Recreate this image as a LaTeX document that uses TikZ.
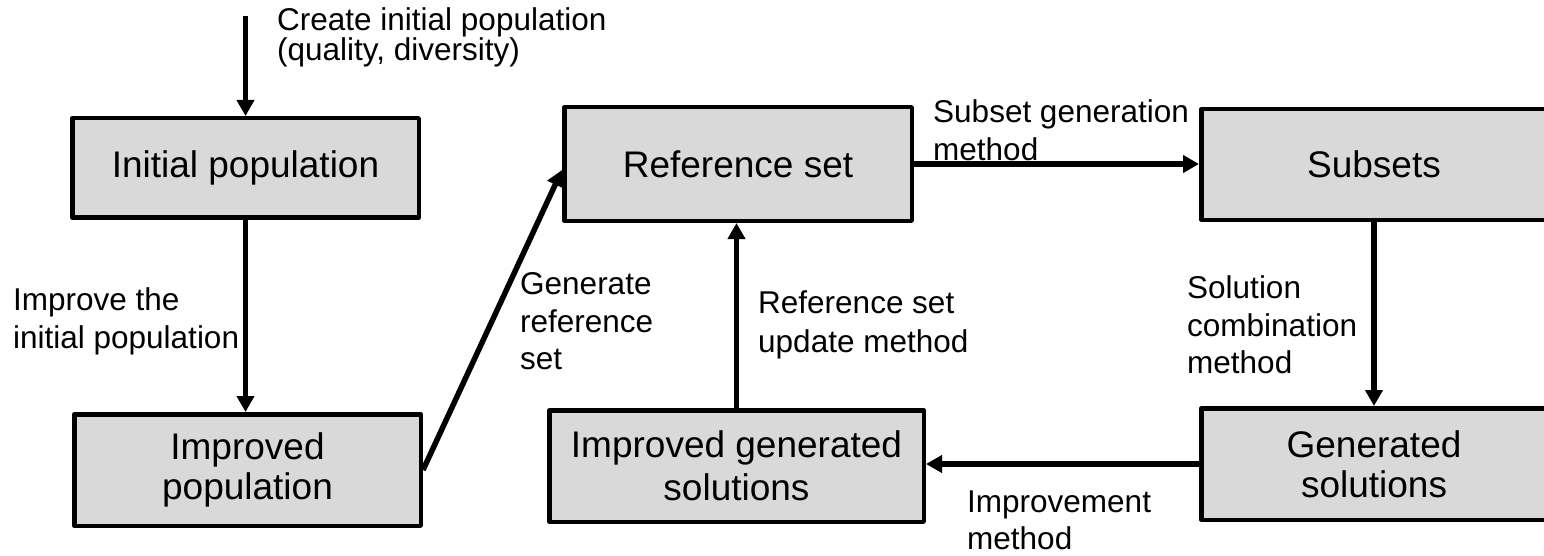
\documentclass[tikz,border=0pt]{standalone}
\usepackage{fontspec}
\setmainfont{Liberation Sans}
\usetikzlibrary{arrows.meta}
\definecolor{boxgray}{HTML}{D9D9D9}
\begin{document}
\begin{tikzpicture}[x=1pt,y=-1pt,
  box/.style={draw=black, fill=boxgray, line width=4.5pt, rectangle, align=center, inner sep=0pt, line join=round},
  boxfont/.style={font=\fontsize{37}{40}\selectfont},
  lbl/.style={anchor=north west, inner sep=0pt, align=left, font=\fontsize{31.5}{37.5}\selectfont},
  arr/.style={line width=5.5pt, -{Triangle[length=16pt,width=17pt]}}
]
\useasboundingbox (0,0) rectangle (1544,556);
\clip (0,0) rectangle (1544,556);

% boxes
\node[box, boxfont, minimum width=346.5pt, minimum height=99.5pt] (init) at (245.5,168) {Initial population};
\node[box, boxfont, minimum width=346.5pt, minimum height=111.5pt] (impop) at (247.5,470) {Improved\\population};
\node[box, boxfont, minimum width=347.5pt, minimum height=113.5pt] (refset) at (738,164) {Reference set};
\node[box, boxfont, minimum width=374.5pt, minimum height=111.5pt, font=\fontsize{37}{43}\selectfont] (impgen) at (736.5,466) {Improved generated\\solutions};
\node[box, boxfont, minimum width=345.5pt, minimum height=110.5pt] (subsets) at (1374,164.5) {Subsets};
\node[box, boxfont, minimum width=345.5pt, minimum height=111.5pt] (gen) at (1374,464) {Generated\\solutions};

% connectors
\coordinate (start) at (245.5,16);
\draw[arr] (start) -- (init.north);
\draw[arr] (init.south) -- (init.south |- impop.north);
\draw[arr] (impop.east) -- ([yshift=-6pt]refset.west);
\draw[arr] (refset.east) -- (refset.east -| subsets.west);
\draw[arr] (subsets.south) -- (gen.north);
\draw[arr] (gen.west) -- (gen.west -| impgen.east);
\draw[arr] (impgen.north) -- (impgen.north |- refset.south);

% labels
\node[lbl, font=\fontsize{31.5}{27}\selectfont] (lcreate) at (277,7.5) {Create initial population\\(quality, diversity)};
\node[lbl] (limprove) at (13,287.5) {Improve the\\initial population};
\node[lbl] (lgenref) at (520,272.5) {Generate\\reference\\set};
\node[lbl, font=\fontsize{31.5}{39}\selectfont] (lupdate) at (758,290.5) {Reference set\\update method};
\node[lbl] (lsubgen) at (933,99.5) {Subset generation\\method};
\node[lbl] (lcomb) at (1187,275.5) {Solution\\combination\\method};
\node[lbl] (limpm) at (967,490.5) {Improvement\\method};
\end{tikzpicture}
\end{document}
